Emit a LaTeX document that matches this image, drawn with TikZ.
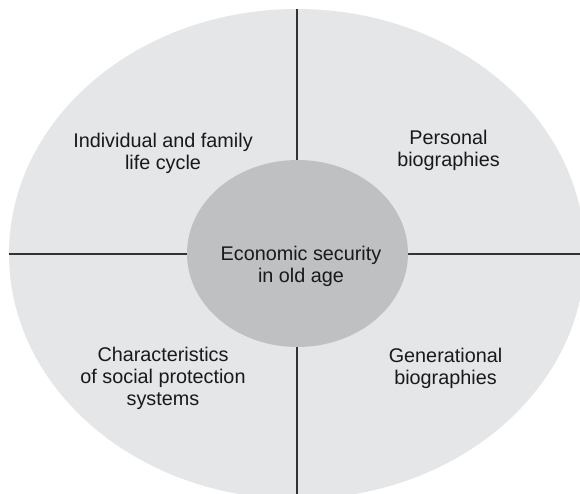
\documentclass[tikz,border=0pt]{standalone}
\usepackage{fontspec}
\setmainfont{Liberation Sans}
\usetikzlibrary{shapes.geometric}

\definecolor{outerfill}{RGB}{229,230,232}
\definecolor{innerfill}{RGB}{191,192,194}
\definecolor{divider}{RGB}{51,51,51}

\tikzset{
    ring/.style={ellipse, inner sep=0pt, outer sep=0pt},
    divline/.style={draw=divider, line width=1.3bp},
    quadtext/.style={align=center, inner sep=0pt, text=black!90,
        font=\fontsize{19.8bp}{22bp}\selectfont}
}

\begin{document}
\begin{tikzpicture}[x=1bp, y=-1bp]

    \useasboundingbox (0, 0) rectangle (580, 494);
    \clip (0, 0) rectangle (580, 494);

    % Outer ellipse
    \node[ring, fill=outerfill, minimum width=576bp, minimum height=490bp] (outer) at (297, 254) {};

    % Draw the vertical and horizontal lines
    \draw[divline] (outer.north) -- (outer.south);
    \draw[divline] (outer.west) -- (outer.east);

    % Inner ellipse in the middle
    \node[ring, fill=innerfill, minimum width=221bp, minimum height=187bp] (centre) at (297.5, 253.5) {};
    \node[quadtext] (centretext) at (301, 266.5) {Economic security\\in old age};

    % Texts of the four quarters
    \node[quadtext] (lifecycle) at (163, 153.5) {Individual and family\\life cycle};
    \node[quadtext] (personal) at (448.5, 150) {Personal\\biographies};
    \node[quadtext] (protection) at (163, 378) {Characteristics\\of social protection\\systems};
    \node[quadtext] (generational) at (445.5, 368) {Generational\\biographies};

\end{tikzpicture}
\end{document}
